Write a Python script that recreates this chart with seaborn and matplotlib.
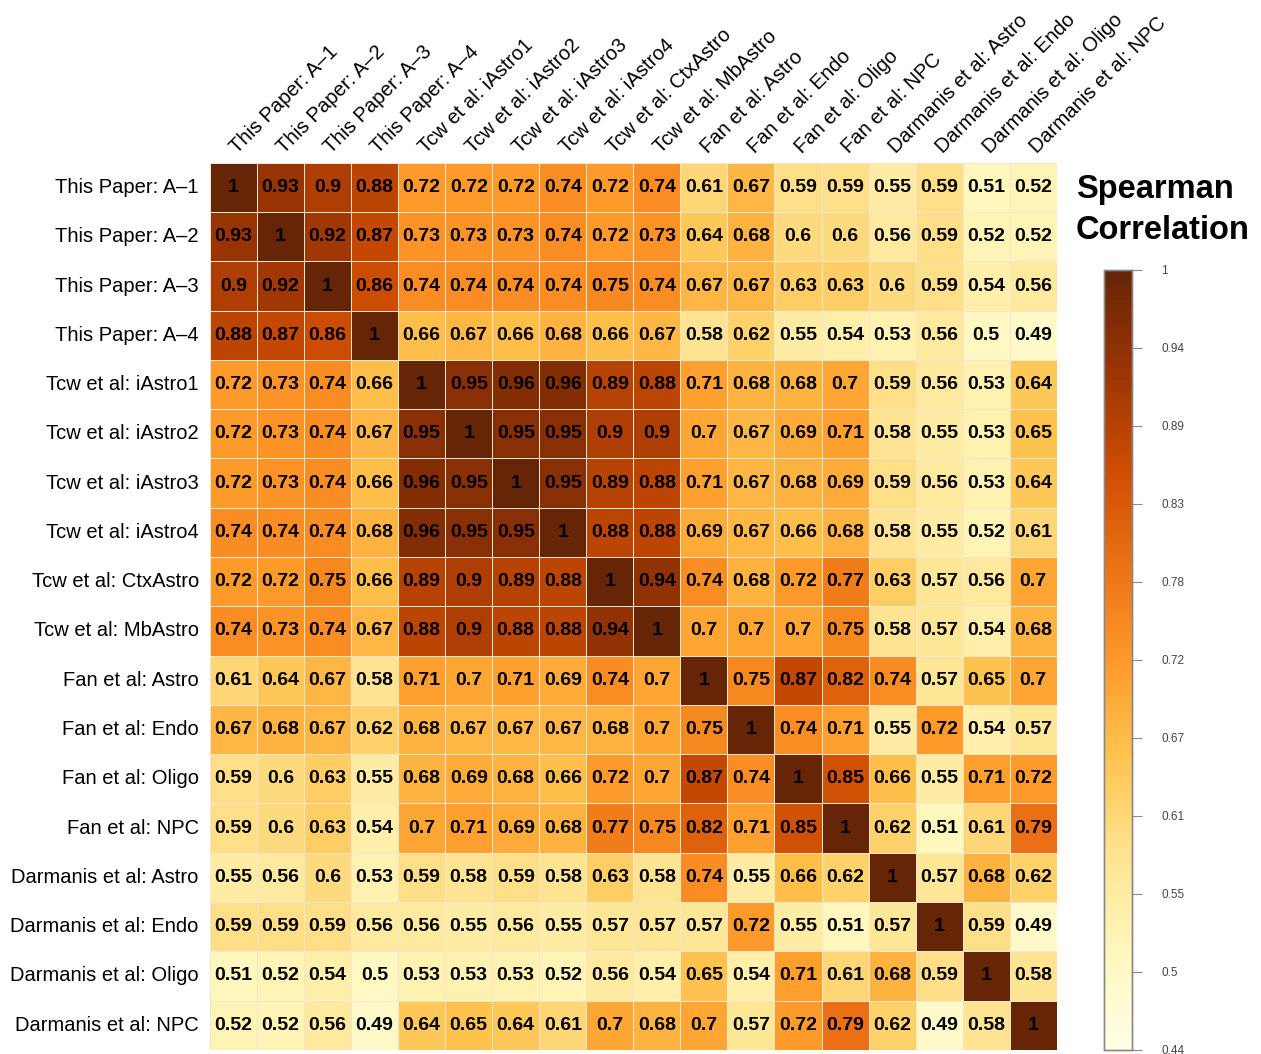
import numpy as np
import pandas as pd
import matplotlib
matplotlib.use('Agg')
import matplotlib.pyplot as plt
import seaborn as sns

labels = ['This Paper: A–1', 'This Paper: A–2', 'This Paper: A–3', 'This Paper: A–4',
          'Tcw et al: iAstro1', 'Tcw et al: iAstro2', 'Tcw et al: iAstro3', 'Tcw et al: iAstro4',
          'Tcw et al: CtxAstro', 'Tcw et al: MbAstro',
          'Fan et al: Astro', 'Fan et al: Endo', 'Fan et al: Oligo', 'Fan et al: NPC',
          'Darmanis et al: Astro', 'Darmanis et al: Endo', 'Darmanis et al: Oligo', 'Darmanis et al: NPC']

rho = [
    [1, 0.93, 0.9, 0.88, 0.72, 0.72, 0.72, 0.74, 0.72, 0.74, 0.61, 0.67, 0.59, 0.59, 0.55, 0.59, 0.51, 0.52],
    [0.93, 1, 0.92, 0.87, 0.73, 0.73, 0.73, 0.74, 0.72, 0.73, 0.64, 0.68, 0.6, 0.6, 0.56, 0.59, 0.52, 0.52],
    [0.9, 0.92, 1, 0.86, 0.74, 0.74, 0.74, 0.74, 0.75, 0.74, 0.67, 0.67, 0.63, 0.63, 0.6, 0.59, 0.54, 0.56],
    [0.88, 0.87, 0.86, 1, 0.66, 0.67, 0.66, 0.68, 0.66, 0.67, 0.58, 0.62, 0.55, 0.54, 0.53, 0.56, 0.5, 0.49],
    [0.72, 0.73, 0.74, 0.66, 1, 0.95, 0.96, 0.96, 0.89, 0.88, 0.71, 0.68, 0.68, 0.7, 0.59, 0.56, 0.53, 0.64],
    [0.72, 0.73, 0.74, 0.67, 0.95, 1, 0.95, 0.95, 0.9, 0.9, 0.7, 0.67, 0.69, 0.71, 0.58, 0.55, 0.53, 0.65],
    [0.72, 0.73, 0.74, 0.66, 0.96, 0.95, 1, 0.95, 0.89, 0.88, 0.71, 0.67, 0.68, 0.69, 0.59, 0.56, 0.53, 0.64],
    [0.74, 0.74, 0.74, 0.68, 0.96, 0.95, 0.95, 1, 0.88, 0.88, 0.69, 0.67, 0.66, 0.68, 0.58, 0.55, 0.52, 0.61],
    [0.72, 0.72, 0.75, 0.66, 0.89, 0.9, 0.89, 0.88, 1, 0.94, 0.74, 0.68, 0.72, 0.77, 0.63, 0.57, 0.56, 0.7],
    [0.74, 0.73, 0.74, 0.67, 0.88, 0.9, 0.88, 0.88, 0.94, 1, 0.7, 0.7, 0.7, 0.75, 0.58, 0.57, 0.54, 0.68],
    [0.61, 0.64, 0.67, 0.58, 0.71, 0.7, 0.71, 0.69, 0.74, 0.7, 1, 0.75, 0.87, 0.82, 0.74, 0.57, 0.65, 0.7],
    [0.67, 0.68, 0.67, 0.62, 0.68, 0.67, 0.67, 0.67, 0.68, 0.7, 0.75, 1, 0.74, 0.71, 0.55, 0.72, 0.54, 0.57],
    [0.59, 0.6, 0.63, 0.55, 0.68, 0.69, 0.68, 0.66, 0.72, 0.7, 0.87, 0.74, 1, 0.85, 0.66, 0.55, 0.71, 0.72],
    [0.59, 0.6, 0.63, 0.54, 0.7, 0.71, 0.69, 0.68, 0.77, 0.75, 0.82, 0.71, 0.85, 1, 0.62, 0.51, 0.61, 0.79],
    [0.55, 0.56, 0.6, 0.53, 0.59, 0.58, 0.59, 0.58, 0.63, 0.58, 0.74, 0.55, 0.66, 0.62, 1, 0.57, 0.68, 0.62],
    [0.59, 0.59, 0.59, 0.56, 0.56, 0.55, 0.56, 0.55, 0.57, 0.57, 0.57, 0.72, 0.55, 0.51, 0.57, 1, 0.59, 0.49],
    [0.51, 0.52, 0.54, 0.5, 0.53, 0.53, 0.53, 0.52, 0.56, 0.54, 0.65, 0.54, 0.71, 0.61, 0.68, 0.59, 1, 0.58],
    [0.52, 0.52, 0.56, 0.49, 0.64, 0.65, 0.64, 0.61, 0.7, 0.68, 0.7, 0.57, 0.72, 0.79, 0.62, 0.49, 0.58, 1],
]

cbar_ticklabels = ['0.44', '0.5', '0.55', '0.61', '0.67', '0.72', '0.78', '0.83', '0.89', '0.94', '1']
vmin, vmax = 0.44, 1.0

sns.set_style('white')
plt.rcParams['font.family'] = ['Liberation Sans', 'DejaVu Sans']
plt.rcParams['text.color'] = 'black'

df = pd.DataFrame(rho, index=labels, columns=labels)
annot = df.map(lambda v: f'{v:g}')

fig = plt.figure(figsize=(12.61, 10.54), dpi=100)
ax = fig.add_axes([0.1665, 0.004, 0.6715, 0.8415])
cax = fig.add_axes([0.8755, 0.004, 0.0222, 0.740])

sns.heatmap(df, ax=ax, cbar_ax=cax, cmap='YlOrBr', vmin=vmin, vmax=vmax,
            annot=annot, fmt='', linewidths=0.6, linecolor='#f3e6d0',
            annot_kws={'fontsize': 14, 'fontweight': 'bold', 'color': 'black'})

# row labels on the left, column labels rotated on top
ax.tick_params(length=0, pad=8, labelcolor='black')
ax.set_yticklabels(labels, rotation=0, fontsize=14.5, color='black')
ax.xaxis.tick_top()
ax.set_xticklabels(labels, rotation=45, ha='left', va='center',
                   rotation_mode='anchor', fontsize=14.5, color='black')
ax.tick_params(axis='x', pad=9)
ax.set_xlabel('')
ax.set_ylabel('')

# colorbar styling
ticks = np.linspace(vmin, vmax, len(cbar_ticklabels))
cax.set_yticks(ticks)
cax.set_yticklabels(cbar_ticklabels, fontsize=8.5, color='#444444')
cax.tick_params(axis='y', length=7, width=0.8, color='#888888', pad=14)
for s in cax.spines.values():
    s.set_visible(True)
    s.set_color('#888888')
    s.set_linewidth(1.0)

fig.text(0.853, 0.801, 'Spearman\nCorrelation', fontsize=23.5, fontweight='bold',
         color='black', ha='left', va='center', linespacing=1.42)

fig.savefig('out.png', dpi=100)
